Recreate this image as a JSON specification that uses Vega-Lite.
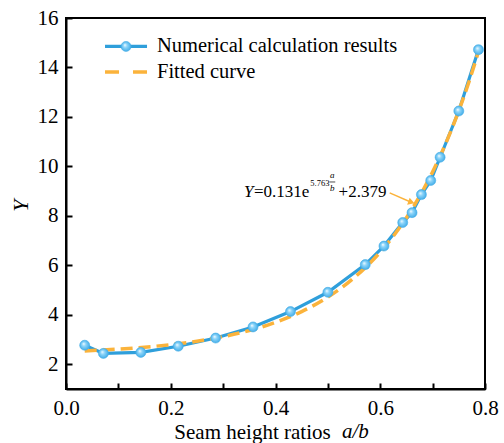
{
  "$schema": "https://vega.github.io/schema/vega-lite/v6.json",
  "width": 419,
  "height": 371,
  "autosize": "none",
  "padding": {"left": 66, "top": 18, "right": 19, "bottom": 54},
  "background": "white",
  "data": {"values": [{}]},
  "config": {
    "font": "Liberation Serif",
    "view": {"stroke": "black", "strokeWidth": 2},
    "axis": {
      "grid": false,
      "domainColor": "black",
      "domainWidth": 2,
      "tickColor": "black",
      "tickWidth": 2,
      "tickSize": -6,
      "labelFont": "Liberation Serif",
      "labelFontSize": 21,
      "labelColor": "black",
      "titleFont": "Liberation Serif",
      "titleColor": "black",
      "titleFontWeight": "normal"
    },
    "text": {"font": "Liberation Serif", "color": "black"}
  },
  "datasets": {
    "numerical": [
      {"ratio": 0.0357, "Y": 2.77},
      {"ratio": 0.0714, "Y": 2.44},
      {"ratio": 0.1429, "Y": 2.48},
      {"ratio": 0.2143, "Y": 2.73},
      {"ratio": 0.2857, "Y": 3.06},
      {"ratio": 0.3571, "Y": 3.51},
      {"ratio": 0.4286, "Y": 4.13},
      {"ratio": 0.5, "Y": 4.91},
      {"ratio": 0.5714, "Y": 6.03},
      {"ratio": 0.6071, "Y": 6.78},
      {"ratio": 0.6429, "Y": 7.73},
      {"ratio": 0.6607, "Y": 8.13},
      {"ratio": 0.6786, "Y": 8.86},
      {"ratio": 0.6964, "Y": 9.43},
      {"ratio": 0.7143, "Y": 10.37},
      {"ratio": 0.75, "Y": 12.24},
      {"ratio": 0.7875, "Y": 14.72}
    ],
    "fitted": [
      {"ratio": 0.0357, "Y": 2.540},
      {"ratio": 0.06, "Y": 2.564},
      {"ratio": 0.1, "Y": 2.612},
      {"ratio": 0.15, "Y": 2.690},
      {"ratio": 0.2, "Y": 2.794},
      {"ratio": 0.25, "Y": 2.932},
      {"ratio": 0.3, "Y": 3.117},
      {"ratio": 0.35, "Y": 3.364},
      {"ratio": 0.4, "Y": 3.693},
      {"ratio": 0.45, "Y": 4.131},
      {"ratio": 0.5, "Y": 4.716},
      {"ratio": 0.55, "Y": 5.497},
      {"ratio": 0.6, "Y": 6.538},
      {"ratio": 0.625, "Y": 7.183},
      {"ratio": 0.65, "Y": 7.927},
      {"ratio": 0.675, "Y": 8.786},
      {"ratio": 0.7, "Y": 9.779},
      {"ratio": 0.725, "Y": 10.927},
      {"ratio": 0.75, "Y": 12.251},
      {"ratio": 0.77, "Y": 13.456},
      {"ratio": 0.7875, "Y": 14.64}
    ]
  },
  "layer": [
    {
      "data": {"name": "numerical"},
      "mark": {"type": "line", "color": "#2f9fdb", "strokeWidth": 3.2},
      "encoding": {
        "x": {
          "field": "ratio", "type": "quantitative",
          "scale": {"domain": [0, 0.8], "nice": false, "zero": false},
          "axis": {
            "title": "Seam height ratios",
            "titleFont": "Liberation Serif",
            "titleFontSize": 21,
            "titleX": 186,
            "titleY": 49,
            "titleAlign": "center",
            "titleBaseline": "alphabetic",
            "values": [0, 0.1, 0.2, 0.3, 0.4, 0.5, 0.6, 0.7, 0.8],
            "labelExpr": "round(datum.value*10) % 2 === 0 ? format(datum.value, '.1f') : ''",
            "labelFont": "Liberation Serif",
            "labelFontSize": 21,
            "labelPadding": 14,
            "labelFlush": false,
            "encode": {"ticks": {"update": {"y2": {"signal": "round(datum.value*10) % 2 === 0 ? -6 : -3"}}}}
          }
        },
        "y": {
          "field": "Y", "type": "quantitative",
          "scale": {"domain": [1, 16], "nice": false, "zero": false},
          "axis": {
            "title": "Y",
            "titleFont": "Liberation Serif",
            "titleFontStyle": "italic",
            "titleFontSize": 22,
            "titleX": -39,
            "titleY": 187,
            "titleAngle": -90,
            "titleAlign": "center",
            "titleBaseline": "alphabetic",
            "values": [2, 3, 4, 5, 6, 7, 8, 9, 10, 11, 12, 13, 14, 15, 16],
            "labelExpr": "datum.value % 2 === 0 ? datum.label : ''",
            "labelFont": "Liberation Serif",
            "labelFontSize": 21,
            "labelPadding": 14,
            "labelFlush": false,
            "encode": {"ticks": {"update": {"x2": {"signal": "datum.value % 2 === 0 ? 6 : 3"}}}}
          }
        }
      }
    },
    {
      "data": {"name": "fitted"},
      "mark": {"type": "line", "color": "#fbb33b", "strokeWidth": 3.5, "strokeDash": [12, 6], "interpolate": "monotone"},
      "encoding": {
        "x": {"field": "ratio", "type": "quantitative"},
        "y": {"field": "Y", "type": "quantitative"}
      }
    },
    {
      "data": {"name": "numerical"},
      "mark": {
        "type": "point", "filled": true, "size": 100, "opacity": 1,
        "fill": {"gradient": "radial", "x1": 0.38, "y1": 0.35, "x2": 0.5, "y2": 0.5, "r1": 0, "r2": 0.55,
                 "stops": [{"offset": 0, "color": "#ffffff"}, {"offset": 0.35, "color": "#8fd6fa"}, {"offset": 1, "color": "#3aa8e6"}]},
        "stroke": "#45ade6", "strokeWidth": 0.6
      },
      "encoding": {
        "x": {"field": "ratio", "type": "quantitative"},
        "y": {"field": "Y", "type": "quantitative"}
      }
    },
    {
      "mark": {"type": "rule", "color": "#2f9fdb", "strokeWidth": 3.2},
      "encoding": {"x": {"datum": 0.0745}, "x2": {"datum": 0.1547}, "y": {"datum": 14.85}}
    },
    {
      "mark": {
        "type": "point", "filled": true, "size": 100, "opacity": 1,
        "fill": {"gradient": "radial", "x1": 0.38, "y1": 0.35, "x2": 0.5, "y2": 0.5, "r1": 0, "r2": 0.55,
                 "stops": [{"offset": 0, "color": "#ffffff"}, {"offset": 0.35, "color": "#8fd6fa"}, {"offset": 1, "color": "#3aa8e6"}]},
        "stroke": "#45ade6", "strokeWidth": 0.6
      },
      "encoding": {"x": {"datum": 0.1146}, "y": {"datum": 14.85}}
    },
    {
      "mark": {"type": "rule", "color": "#fbb33b", "strokeWidth": 3.5, "strokeDash": [14, 14]},
      "encoding": {"x": {"datum": 0.0745}, "x2": {"datum": 0.1547}, "y": {"datum": 13.82}}
    },
    {
      "mark": {"type": "text", "align": "left", "baseline": "middle", "fontSize": 20.5},
      "encoding": {"x": {"datum": 0.1737}, "y": {"datum": 14.85}, "text": {"value": "Numerical calculation results"}}
    },
    {
      "mark": {"type": "text", "align": "left", "baseline": "middle", "fontSize": 20.5},
      "encoding": {"x": {"datum": 0.1737}, "y": {"datum": 13.82}, "text": {"value": "Fitted curve"}}
    },
    {
      "mark": {"type": "text", "align": "left", "baseline": "alphabetic", "fontSize": 17, "fontStyle": "italic"},
      "encoding": {"x": {"datum": 0.3399}, "y": {"datum": 8.77}, "text": {"value": "Y"}}
    },
    {
      "mark": {"type": "text", "align": "left", "baseline": "alphabetic", "fontSize": 17},
      "encoding": {"x": {"datum": 0.359}, "y": {"datum": 8.77}, "text": {"value": "=0.131e"}}
    },
    {
      "mark": {"type": "text", "align": "left", "baseline": "alphabetic", "fontSize": 8.5},
      "encoding": {"x": {"datum": 0.4665}, "y": {"datum": 9.2}, "text": {"value": "5.763"}}
    },
    {
      "mark": {"type": "text", "align": "center", "baseline": "alphabetic", "fontSize": 9, "fontStyle": "italic"},
      "encoding": {"x": {"datum": 0.5085}, "y": {"datum": 9.52}, "text": {"value": "a"}}
    },
    {
      "mark": {"type": "rule", "color": "black", "strokeWidth": 0.7},
      "encoding": {"x": {"datum": 0.5029}, "x2": {"datum": 0.5141}, "y": {"datum": 9.37}}
    },
    {
      "mark": {"type": "text", "align": "center", "baseline": "alphabetic", "fontSize": 9, "fontStyle": "italic"},
      "encoding": {"x": {"datum": 0.5085}, "y": {"datum": 9.0}, "text": {"value": "b"}}
    },
    {
      "mark": {"type": "text", "align": "left", "baseline": "alphabetic", "fontSize": 17},
      "encoding": {"x": {"datum": 0.5205}, "y": {"datum": 8.77}, "text": {"value": "+2.379"}}
    },
    {
      "mark": {"type": "rule", "color": "#fbb33b", "strokeWidth": 1.5},
      "encoding": {"x": {"datum": 0.618}, "x2": {"datum": 0.658}, "y": {"datum": 8.93}, "y2": {"datum": 8.56}}
    },
    {
      "mark": {"type": "point", "shape": "triangle-right", "filled": true, "size": 55, "angle": 20, "color": "#fbb33b", "opacity": 1},
      "encoding": {"x": {"datum": 0.6595}, "y": {"datum": 8.55}}
    },
    {
      "mark": {"type": "text", "align": "left", "baseline": "alphabetic", "fontSize": 21, "fontStyle": "italic"},
      "encoding": {"x": {"datum": 0.527}, "y": {"datum": 1}, "yOffset": {"value": 49}, "text": {"value": "a/b"}}
    }
  ]
}
